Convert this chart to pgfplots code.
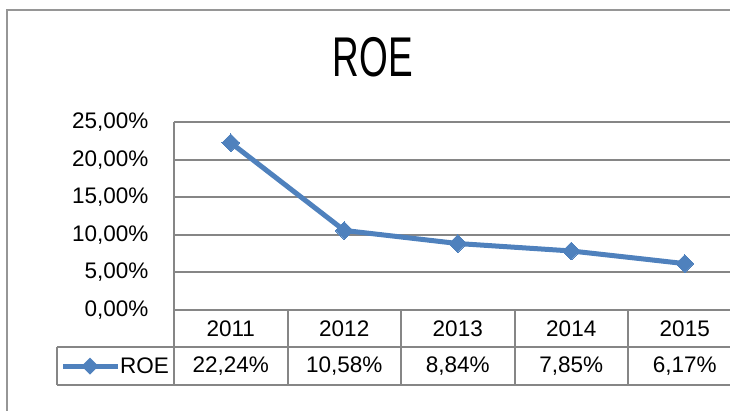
\documentclass[border=0pt]{standalone}
\usepackage{fontspec}
\setmainfont{Liberation Sans}
\usepackage{pgfplots}
\pgfplotsset{compat=1.18}
\usepackage{graphicx}
\definecolor{roeblue}{RGB}{79,129,189}
\definecolor{gridgray}{RGB}{134,134,134}
\definecolor{framegray}{RGB}{150,150,150}

\begin{document}
\begin{tikzpicture}[x=1pt,y=1pt]
  \useasboundingbox (0,0) rectangle (730,410);
  % chart frame (cut off at right and bottom)
  \draw[framegray, line width=2pt] (7,-20) -- (7,400) -- (780,400);
  % title
  \node[font=\fontsize{56}{60}\selectfont] at (373,353) {\scalebox{0.66}[1]{ROE}};

  \begin{axis}[
      at={(174pt,100pt)}, anchor=south west,
      scale only axis, width=567.5pt, height=188pt,
      xmin=0.5, xmax=5.5, ymin=0, ymax=25,
      xtick=\empty,
      ytick={0,5,10,15,20,25},
      yticklabels={{0,00\%},{5,00\%},{10,00\%},{15,00\%},{20,00\%},{25,00\%}},
      yticklabel style={font=\fontsize{22.5}{24}\selectfont, anchor=east, xshift=-22pt},
      major tick length=0pt,
      axis x line=none,
      axis y line*=left,
      axis line style={gridgray, line width=2pt, -},
      ymajorgrids, major grid style={gridgray, line width=2pt},
      clip=false,
    ]
    \addplot[roeblue, line width=5pt, mark=square*,
             mark options={rotate=45, line width=0pt}, mark size=6.3pt]
      coordinates {(1,22.24) (2,10.58) (3,8.84) (4,7.85) (5,6.17)};
  \end{axis}

  % data table
  \begin{scope}[gridgray, line width=2pt]
    \draw (57,63) -- (780,63);
    \draw (57,25) -- (780,25);
    \draw (57,63) -- (57,25);
    \foreach \x in {174,287.5,401,514.5,628,741.5} \draw (\x,100) -- (\x,25);
  \end{scope}
  \begin{scope}[font=\fontsize{22.5}{24}\selectfont]
    \foreach \x/\yr/\v in {230.75/2011/{22,24\%},344.25/2012/{10,58\%},
        457.75/2013/{8,84\%},571.25/2014/{7,85\%},684.75/2015/{6,17\%}} {
      \node at (\x,81) {\yr};
      \node at (\x,44) {\v};
    }
    \draw[roeblue, line width=5pt] (63,44) -- (118,44);
    \fill[roeblue] (90,44) +(-8.5,0) -- +(0,8.5) -- +(8.5,0) -- +(0,-8.5) -- cycle;
    \node[anchor=west, inner sep=0pt] at (120,44) {ROE};
  \end{scope}
\end{tikzpicture}
\end{document}
